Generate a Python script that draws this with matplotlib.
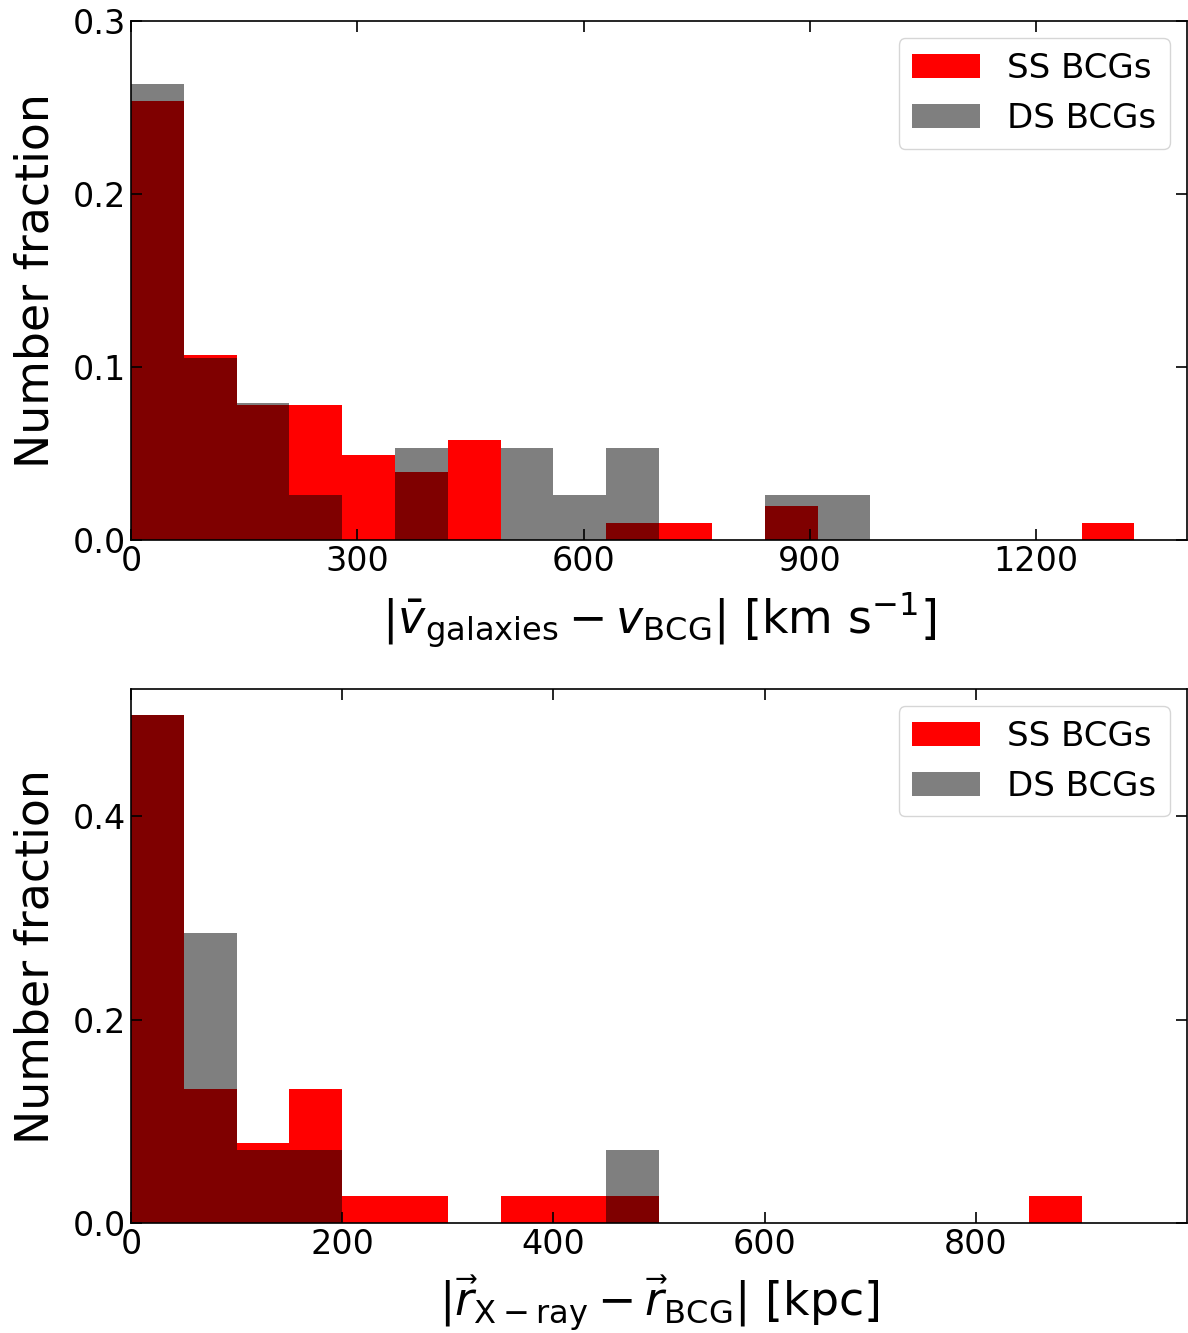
"""velocity and position offset histograms for SS / DS BCGs"""
import numpy as np
import matplotlib
matplotlib.use("Agg")
import matplotlib.pyplot as plt

# top panel: |v_gal - v_BCG|, bins of 70 km/s from 0 to 1400
v_edges = np.arange(0, 1401, 70)
ss_v = [0.254, 0.107, 0.078, 0.078, 0.049, 0.039, 0.058, 0.0, 0.0, 0.0097,
        0.0097, 0.0, 0.0194, 0.0, 0.0, 0.0, 0.0, 0.0, 0.0097, 0.0]
ds_v = [0.264, 0.105, 0.079, 0.026, 0.0, 0.053, 0.0, 0.053, 0.026, 0.053,
        0.0, 0.0, 0.026, 0.026, 0.0, 0.0, 0.0, 0.0, 0.0, 0.0]

# bottom panel: |r_X - r_BCG|, bins of 50 kpc from 0 to 1000
r_edges = np.arange(0, 1001, 50)
ss_r = [0.5, 0.1316, 0.0789, 0.1316, 0.0263, 0.0263, 0.0, 0.0263, 0.0263, 0.0263,
        0.0, 0.0, 0.0, 0.0, 0.0, 0.0, 0.0, 0.0263, 0.0, 0.0]
ds_r = [0.5, 0.2857, 0.0714, 0.0714, 0.0, 0.0, 0.0, 0.0, 0.0, 0.0714,
        0.0, 0.0, 0.0, 0.0, 0.0, 0.0, 0.0, 0.0, 0.0, 0.0]


def draw(ax, edges, ss, ds):
    centers = 0.5 * (edges[:-1] + edges[1:])
    ax.hist(centers, bins=edges, weights=ss, color='red', label='SS BCGs')
    ax.hist(centers, bins=edges, weights=ds, color='k', alpha=0.5, label='DS BCGs')
    ax.tick_params(direction='in', top=True, right=True, length=8, width=1.2,
                   labelsize=24)
    ax.set_ylabel('Number fraction', fontsize=33, labelpad=10)
    ax.legend(loc='upper right', fontsize=24.5)
    for s in ax.spines.values():
        s.set_linewidth(1.2)


fig = plt.figure(figsize=(11.88, 13.33), dpi=100)
ax1 = fig.add_axes([0.1103, 0.595, 0.889, 0.389])
ax2 = fig.add_axes([0.1103, 0.0825, 0.889, 0.4005])

draw(ax1, v_edges, ss_v, ds_v)
ax1.set_xlim(0, 1400)
ax1.set_ylim(0, 0.3)
ax1.set_xticks([0, 300, 600, 900, 1200])
ax1.set_yticks([0.0, 0.1, 0.2, 0.3])
ax1.set_xlabel(r'$|\bar{v}_{\rm galaxies} - v_{\rm BCG}|$ [km s$^{-1}$]',
               fontsize=33, labelpad=9)

draw(ax2, r_edges, ss_r, ds_r)
ax2.set_xlim(0, 1000)
ax2.set_ylim(0, 0.525)
ax2.set_xticks([0, 200, 400, 600, 800])
ax2.set_yticks([0.0, 0.2, 0.4])
ax2.set_xlabel(r'$|\vec{r}_{\rm X-ray} - \vec{r}_{\rm BCG}|$ [kpc]',
               fontsize=33, labelpad=9)

fig.savefig('out.png', dpi=100)
